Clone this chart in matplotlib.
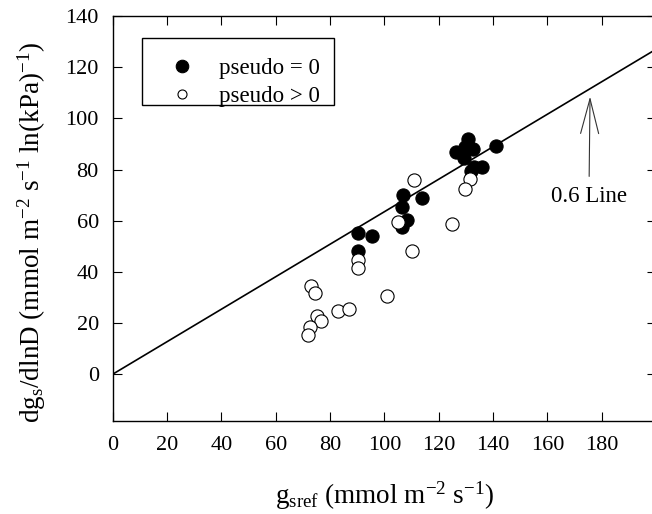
import numpy as np
import matplotlib
matplotlib.use("Agg")
import matplotlib.pyplot as plt
from matplotlib.patches import Rectangle

plt.rcParams['font.family'] = ['Liberation Serif', 'DejaVu Serif']
plt.rcParams['mathtext.fontset'] = 'custom'
plt.rcParams['mathtext.rm'] = 'Liberation Serif'
plt.rcParams['mathtext.it'] = 'Liberation Serif:italic'

# pseudo = 0 (filled circles)
x_zero = [130.9, 126.3, 129.6, 132.7, 129.4, 141.0, 133.0, 135.9, 131.8,
          106.7, 114.0, 106.4, 108.4, 106.4, 90.4, 95.3, 90.4]
y_zero = [92.0, 86.7, 88.7, 88.0, 84.4, 89.0, 80.8, 81.1, 79.3,
          70.1, 69.0, 65.5, 60.3, 57.7, 55.1, 54.0, 48.3]

# pseudo > 0 (open circles)
x_pos = [131.5, 129.7, 110.9, 105.1, 125.0, 110.1, 90.2, 90.2, 72.9,
         74.6, 101.1, 83.0, 87.1, 75.1, 76.6, 72.6, 72.0]
y_pos = [76.2, 72.2, 75.9, 59.6, 58.6, 48.3, 44.7, 41.4, 34.5,
         31.7, 30.6, 24.7, 25.4, 22.9, 20.7, 18.5, 15.5]

line_slope = 0.635
line_x = np.array([0, 200])

xticks = np.arange(0, 181, 20)
yticks = np.arange(0, 141, 20)

fig = plt.figure(figsize=(6.52, 5.14), dpi=100)
ax = fig.add_axes([0.1729, 0.1809, 0.8333, 0.788])

ax.plot(line_x, line_slope * line_x, color='black', lw=1.2, zorder=2)
ax.plot(x_zero, y_zero, 'o', ms=9.5, mfc='black', mec='black', mew=0.8,
        ls='none', label='pseudo = 0', zorder=3)
ax.plot(x_pos, y_pos, 'o', ms=9.5, mfc='white', mec='black', mew=0.8,
        ls='none', label='pseudo > 0', zorder=4)

ax.set_xlim(0, 200)
ax.set_ylim(-18.3, 140)
ax.set_xticks(xticks)
ax.set_yticks(yticks)
ax.tick_params(direction='in', length=6.5, width=0.8, top=True, right=True,
               labelsize=16)
ax.tick_params(axis='y', pad=10)
ax.tick_params(axis='x', pad=11)
for s in ax.spines.values():
    s.set_linewidth(1.0)

ax.set_xlabel(r'g$_\mathrm{sref}$ (mmol m$^\mathrm{-2}$ s$^\mathrm{-1}$)',
              fontsize=19.5)
ax.set_ylabel(r'dg$_\mathrm{s}$/dlnD (mmol m$^\mathrm{-2}$ s$^\mathrm{-1}$ '
              r'ln(kPa)$^\mathrm{-1}$)', fontsize=19.5)
ax.xaxis.set_label_coords(0.50, -0.145)
ax.yaxis.set_label_coords(-0.12, 0.465)

# legend
leg = ax.legend(loc='upper left', bbox_to_anchor=(0.081, 0.8965),
                frameon=False, fontsize=16.5, borderaxespad=0,
                borderpad=0, handlelength=2.2, handletextpad=0.5,
                labelspacing=0.3)
leg.legend_handles[0].set_markersize(9.0)
leg.legend_handles[1].set_markersize(6.5)
ax.add_patch(Rectangle((0.0534, 0.781), 0.354, 0.164, transform=ax.transAxes,
                       fill=False, edgecolor='black', lw=1.0, zorder=5))

# arrow annotation
ax.annotate('0.6 Line', xy=(175.7, 108.5), xytext=(175.3, 69.4),
            ha='center', va='center', fontsize=16.5,
            arrowprops=dict(arrowstyle='->,head_length=2.5,head_width=0.65',
                            mutation_scale=10, color='#333333', lw=0.8,
                            shrinkA=5, shrinkB=0))

fig.savefig('out.png', dpi=100)
